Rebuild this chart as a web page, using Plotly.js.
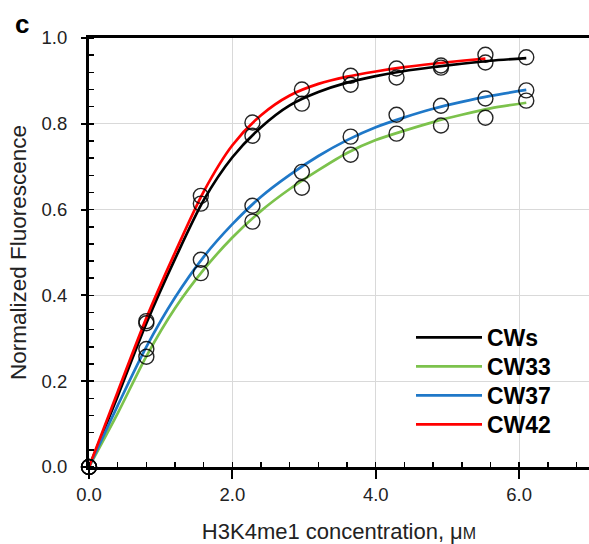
<!DOCTYPE html>
<html>
<head>
<meta charset="utf-8">
<script src="https://cdn.plot.ly/plotly-3.0.1.min.js"></script>
<style>html,body{margin:0;padding:0;background:#fff;}</style>
</head>
<body>
<div id="chart" style="width:589px;height:544px;"></div>
<script>
// Concentrations of measured points (µM)
const concPts = [0, 0.80, 1.56, 2.28, 2.97, 3.65, 4.29, 4.91, 5.53, 6.10];
// Measured data (open circles)
const ptsCWs  = [0, 0.335, 0.614, 0.772, 0.847, 0.891, 0.908, 0.931, 0.943, 0.955];
const ptsCW33 = [0, 0.257, 0.452, 0.572, 0.651, 0.728, 0.777, 0.796, 0.814, 0.854];
const ptsCW37 = [0, 0.275, 0.483, 0.609, 0.688, 0.770, 0.821, 0.842, 0.859, 0.878];
const ptsCW42 = [0, 0.340, 0.632, 0.803, 0.880, 0.912, 0.929, 0.936, 0.961];
// Fitted curves
const fitX     = [0, 0.4, 0.8, 1.2, 1.6, 2.0, 2.4, 2.8, 3.2, 3.6, 4.0, 4.4, 4.8, 5.2, 5.6, 6.1];
const fitCWs   = [0, 0.165, 0.335, 0.485, 0.622, 0.722, 0.792, 0.843, 0.874, 0.896, 0.911, 0.923, 0.932, 0.940, 0.947, 0.953];
const fitCW33  = [0, 0.125, 0.258, 0.370, 0.460, 0.535, 0.597, 0.648, 0.692, 0.732, 0.762, 0.784, 0.804, 0.821, 0.836, 0.849];
const fitCW37  = [0, 0.143, 0.280, 0.395, 0.490, 0.566, 0.630, 0.681, 0.725, 0.762, 0.792, 0.815, 0.835, 0.851, 0.865, 0.879];
const fitX42   = [0, 0.4, 0.8, 1.2, 1.6, 2.0, 2.4, 2.8, 3.2, 3.6, 4.0, 4.4, 4.8, 5.2, 5.53];
const fitCW42  = [0, 0.175, 0.347, 0.500, 0.642, 0.750, 0.820, 0.866, 0.893, 0.910, 0.922, 0.932, 0.940, 0.947, 0.952];

const names  = ['CWs', 'CW33', 'CW37', 'CW42'];
const colors = ['#000000', '#7cc24c', '#1f78c8', '#ff0000'];
const xTickVals = [0, 2, 4, 6];
const xTickText = ['0.0', '2.0', '4.0', '6.0'];

const fitSets = [[fitX, fitCWs], [fitX, fitCW33], [fitX, fitCW37], [fitX42, fitCW42]];
const ptSets  = [[concPts, ptsCWs], [concPts, ptsCW33], [concPts, ptsCW37], [concPts.slice(0, ptsCW42.length), ptsCW42]];
const legendIds = ['legend', 'legend2', 'legend3', 'legend4'];

const traces = [];
fitSets.forEach((s, i) => {
  traces.push({
    x: s[0], y: s[1], type: 'scatter', mode: 'lines', name: names[i],
    line: {color: colors[i], width: 2.7, shape: 'spline', smoothing: 0.8},
    legend: legendIds[i], showlegend: true, hoverinfo: 'skip'
  });
});
ptSets.forEach((s, i) => {
  traces.push({
    x: s[0], y: s[1], type: 'scatter', mode: 'markers', name: names[i] + ' data',
    marker: {symbol: 'circle-open', size: 15, color: 'rgba(0,0,0,0.85)', line: {width: 1.4, color: 'rgba(0,0,0,0.85)'}},
    showlegend: false, cliponaxis: false
  });
});

const FONT = 'Liberation Sans, Arial, sans-serif';
const axisFont = {family: FONT, size: 18.5, color: '#222'};

function legendAt(yTop) {
  return {
    x: 0.644, y: yTop, xanchor: 'left', yanchor: 'top',
    font: {family: FONT, size: 23, color: '#000', weight: 'bold'},
    bgcolor: 'rgba(0,0,0,0)', borderwidth: 0, itemwidth: 66
  };
}

const layout = {
  width: 589, height: 544,
  margin: {l: 89, r: 0, t: 38, b: 77},
  paper_bgcolor: '#fff', plot_bgcolor: '#fff',
  showlegend: true,
  legend: legendAt(0.352),
  legend2: legendAt(0.2844),
  legend3: legendAt(0.2168),
  legend4: legendAt(0.1492),
  xaxis: {
    range: [0, 6.975], showgrid: true, gridcolor: '#d9d9d9', gridwidth: 1,
    tickvals: xTickVals, ticktext: xTickText,
    ticks: 'outside', ticklen: 9, tickwidth: 2, tickcolor: '#000',
    minor: {dtick: 0.4, tick0: 0, ticks: 'inside', ticklen: 5, tickwidth: 1.5, tickcolor: '#000', showgrid: false},
    showline: true, linecolor: '#000', linewidth: 3, mirror: true,
    zeroline: false, tickfont: axisFont, ticklabelstandoff: 0,
    title: {text: 'H3K4me1 concentration, μ<span style="font-size:16px">M</span>', font: {family: FONT, size: 22, color: '#222'}, standoff: 32}
  },
  yaxis: {
    range: [0, 1], showgrid: true, gridcolor: '#d9d9d9', gridwidth: 1,
    dtick: 0.2, tick0: 0, tickformat: '.1f',
    ticks: 'outside', ticklen: 5, tickwidth: 2, tickcolor: '#000',
    minor: {dtick: 0.04, tick0: 0, ticks: 'inside', ticklen: 5, tickwidth: 1.5, tickcolor: '#000', showgrid: false},
    showline: true, linecolor: '#000', linewidth: 3, mirror: false,
    zeroline: false, tickfont: axisFont, ticklabelstandoff: 10,
    title: {text: 'Normalized Fluorescence', font: {family: FONT, size: 22.5, color: '#222'}, standoff: 9}
  },
  annotations: [{
    text: '<b>c</b>', xref: 'paper', yref: 'paper', x: -0.135, y: 1.0315,
    xanchor: 'center', yanchor: 'middle', showarrow: false,
    font: {family: FONT, size: 26, color: '#000'}
  }]
};

Plotly.newPlot('chart', traces, layout, {displayModeBar: false, staticPlot: true});
</script>
</body>
</html>
